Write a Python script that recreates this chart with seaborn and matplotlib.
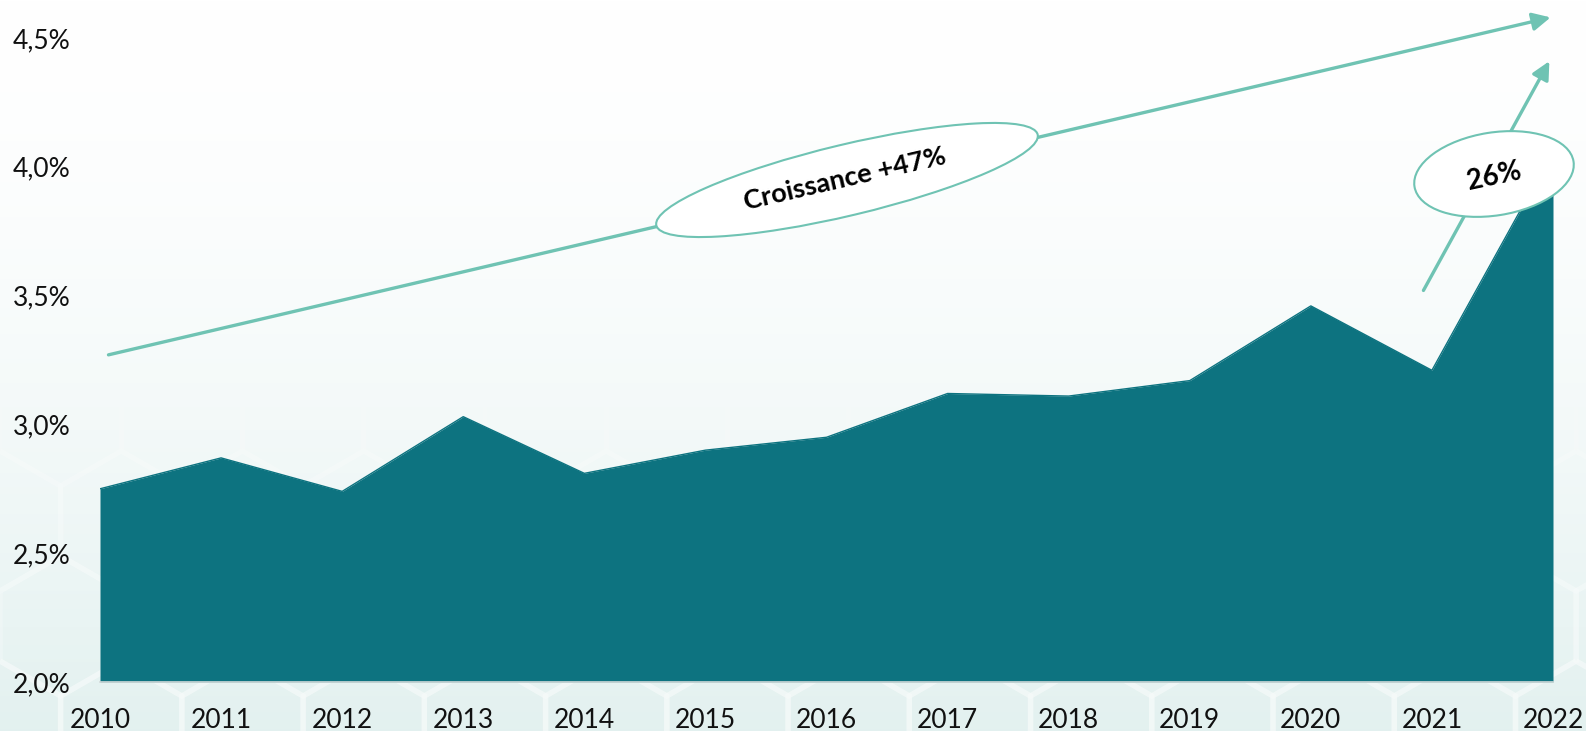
import numpy as np
import pandas as pd
import matplotlib
matplotlib.use("Agg")
import matplotlib.pyplot as plt
import seaborn as sns
from matplotlib.patches import Ellipse, FancyArrowPatch, RegularPolygon
from matplotlib.transforms import IdentityTransform
from matplotlib.ticker import FuncFormatter

# Share of spending per year (%)
years = [2010, 2011, 2012, 2013, 2014, 2015, 2016, 2017, 2018, 2019, 2020, 2021, 2022]
rate = [2.75, 2.87, 2.74, 3.03, 2.81, 2.90, 2.95, 3.12, 3.11, 3.17, 3.46, 3.21, 4.06]
y_ticks = [2.0, 2.5, 3.0, 3.5, 4.0, 4.5]

growth_total = "Croissance +47%"
growth_last = "26%"

AREA = "#0d7380"
ACCENT = "#6fc3b3"

sns.set_theme(style="white")
plt.rcParams["font.family"] = ["Lato", "DejaVu Sans"]

W, H, DPI = 1586, 731, 100
fig = plt.figure(figsize=(W / DPI, H / DPI), dpi=DPI)

# Background: white fading into a pale teal, with faint hexagon tiles
bg = fig.add_axes([0, 0, 1, 1], zorder=-10)
bg.set_xlim(0, W)
bg.set_ylim(0, H)
bg.axis("off")
grad = np.linspace(0, 1, 256)[:, None] ** 1.6
top = np.array([1.0, 1.0, 1.0])
bottom = np.array([0.89, 0.945, 0.94])
img = top + (bottom - top) * grad[..., None] * np.ones((1, 2, 1))
bg.imshow(img[::-1], extent=[0, W, 0, H], aspect="auto", origin="lower", zorder=0)
r = 70
for row in range(0, 8):
    for col in range(0, 14):
        cx = col * r * 1.732 + (row % 2) * r * 0.866
        cy = row * r * 1.5
        bg.add_patch(RegularPolygon((cx, cy), 6, radius=r, orientation=0,
                                    facecolor="none", edgecolor="white",
                                    lw=4, alpha=0.3 * max(0, 1 - cy / 450), zorder=1))

df = pd.DataFrame({"year": years, "rate": rate})

ax = fig.add_axes([100 / W, 49 / H, 1453 / W, (682 - 38) / H])
ax.set_facecolor("none")
ax.fill_between(df["year"], 2.0, df["rate"], color=AREA, lw=0, zorder=2)
sns.lineplot(data=df, x="year", y="rate", ax=ax, color=AREA, lw=1, zorder=3)

ax.set_xlim(2010, 2022)
ax.set_ylim(2.0, 4.5)
ax.set_xticks(years)
ax.set_yticks(y_ticks)
ax.yaxis.set_major_formatter(FuncFormatter(lambda v, _: f"{v:.1f}".replace(".", ",") + "%"))
ax.tick_params(axis="both", length=0, labelsize=19, colors="#111111")
ax.tick_params(axis="y", pad=21)
ax.tick_params(axis="x", pad=19)
ax.set_xlabel("")
ax.set_ylabel("")
for side in ["top", "right", "left"]:
    ax.spines[side].set_visible(False)
ax.spines["bottom"].set_color("#d0d8d8")
ax.spines["bottom"].set_linewidth(1.2)
ax.spines["bottom"].set_zorder(4)

# Trend arrows
arrow_kw = dict(arrowstyle="-|>,head_length=0.9,head_width=0.45", color=ACCENT,
                lw=2.4, mutation_scale=12, clip_on=False, zorder=5,
                shrinkA=0, shrinkB=0)
ax.add_patch(FancyArrowPatch((2010.07, 3.27), (2021.98, 4.58), **arrow_kw))
ax.add_patch(FancyArrowPatch((2020.93, 3.52), (2021.97, 4.41), **arrow_kw))

# Labelled ellipses, placed in pixel coordinates
ident = IdentityTransform()
ax.add_patch(Ellipse((847, H - 180), 392, 71, angle=13.4, facecolor="white",
                     edgecolor=ACCENT, lw=1.5, transform=ident, clip_on=False, zorder=6))
ax.text(845, H - 179, growth_total, transform=ident, rotation=13, ha="center",
        va="center", fontsize=19.5, fontweight="bold", color="black", zorder=7,
        rotation_mode="anchor")
ax.add_patch(Ellipse((1494, H - 174), 161, 83, angle=9, facecolor="white",
                     edgecolor=ACCENT, lw=1.5, transform=ident, clip_on=False, zorder=6))
ax.text(1494, H - 176, growth_last, transform=ident, rotation=12, ha="center",
        va="center", fontsize=20, fontweight="bold", color="black", zorder=7,
        rotation_mode="anchor")

fig.savefig("out.png", dpi=DPI)
